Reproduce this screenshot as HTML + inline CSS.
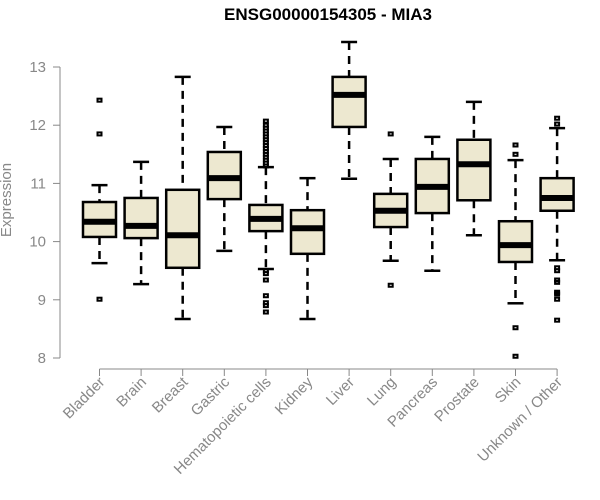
<!DOCTYPE html>
<html><head><meta charset="utf-8"><style>
body{margin:0;background:#fff;}
svg{display:block;font-family:"Liberation Sans",Arial,sans-serif;}
</style></head><body>
<svg id="chart" width="600" height="500">
<text x="328" y="20" text-anchor="middle" font-weight="bold" font-size="17">ENSG00000154305 - MIA3</text>
<text transform="translate(11,200) rotate(-90)" text-anchor="middle" font-size="15" fill="#888">Expression</text>
<g id="axes"></g><g id="boxes"></g>
</svg>
<script>
const categories=["Bladder","Brain","Breast","Gastric","Hematopoietic cells","Kidney","Liver","Lung","Pancreas","Prostate","Skin","Unknown / Other"];
const whiskerLow=[9.63,9.27,8.67,9.84,9.53,8.67,11.08,9.67,9.5,10.11,8.94,9.68];
const q1=[10.08,10.06,9.55,10.73,10.18,9.79,11.97,10.25,10.49,10.71,9.65,10.53];
const medians=[10.34,10.27,10.11,11.09,10.39,10.23,12.52,10.53,10.94,11.33,9.94,10.75];
const q3=[10.68,10.75,10.89,11.54,10.63,10.54,12.83,10.82,11.42,11.75,10.35,11.09];
const whiskerHigh=[10.97,11.37,12.83,11.97,11.28,11.09,13.43,11.42,11.8,12.4,11.4,11.95];
const outliers=[[12.43,11.85,9.01],[],[],[],[12.07,12.0,11.95,11.9,11.85,11.8,11.75,11.7,11.65,11.6,11.55,11.5,11.45,11.4,11.35,11.3,9.5,9.45,9.34,9.07,8.95,8.9,8.79],[],[],[11.85,9.25],[],[],[11.66,11.5,8.52,8.03],[12.12,12.02,9.55,9.5,9.34,9.3,9.13,9.1,9.01,8.65]];
const yTicks=[8,9,10,11,12,13];
const NS="http://www.w3.org/2000/svg";
const y=v=>67+(13-v)*58.2;
const x=i=>99.5+i*41.6;
function mk(t,a,p){const e=document.createElementNS(NS,t);for(const k in a)e.setAttribute(k,a[k]);p.appendChild(e);return e;}
const ax=document.getElementById('axes'),bx=document.getElementById('boxes');
const yl=mk('line',{x1:60,x2:60,y1:y(13),y2:y(8),stroke:'#888'},ax);


yTicks.forEach(t=>{
 const l=mk('line',{x1:53,x2:60,y1:y(t),y2:y(t),stroke:'#888'},ax);
 
 
 const tx=mk('text',{x:46,y:y(t)+5,'text-anchor':'end','font-size':15,fill:'#888'},ax);
 tx.textContent=t;
 
 
});
const xl=mk('line',{x1:x(0),x2:x(categories.length-1),y1:369,y2:369,stroke:'#888'},ax);


categories.forEach((c,i)=>{
 const cx=x(i);
 const l=mk('line',{x1:cx,x2:cx,y1:369,y2:376,stroke:'#888'},ax);
 
 
 const tx=mk('text',{'text-anchor':'end','font-size':15,fill:'#888',transform:`translate(${cx+6},${383}) rotate(-45)`},ax);
 tx.textContent=c;
 
 
 const g=mk('g',{},bx);
 
 
 const d={stroke:'#000','stroke-width':2.5,'stroke-dasharray':'8,6'};
 mk('line',Object.assign({x1:cx,x2:cx,y1:y(whiskerHigh[i]),y2:y(q3[i])},d),g);
 mk('line',Object.assign({x1:cx,x2:cx,y1:y(q1[i]),y2:y(whiskerLow[i])},d),g);
 mk('line',{x1:cx-8,x2:cx+8,y1:y(whiskerHigh[i]),y2:y(whiskerHigh[i]),stroke:'#000','stroke-width':2.5},g);
 mk('line',{x1:cx-8,x2:cx+8,y1:y(whiskerLow[i]),y2:y(whiskerLow[i]),stroke:'#000','stroke-width':2.5},g);
 mk('rect',{x:cx-16.5,y:y(q3[i]),width:33,height:y(q1[i])-y(q3[i]),fill:'#ede8d0',stroke:'#000','stroke-width':2.5},g);
 mk('line',{x1:cx-16.5,x2:cx+16.5,y1:y(medians[i]),y2:y(medians[i]),stroke:'#000','stroke-width':6},g);
 outliers[i].forEach(o=>{
  const r=mk('rect',{x:cx-2,y:y(o)-1.5,width:4,height:3,fill:'none',stroke:'#000','stroke-width':2},g);
  
  
 });
});
</script>
</body></html>
